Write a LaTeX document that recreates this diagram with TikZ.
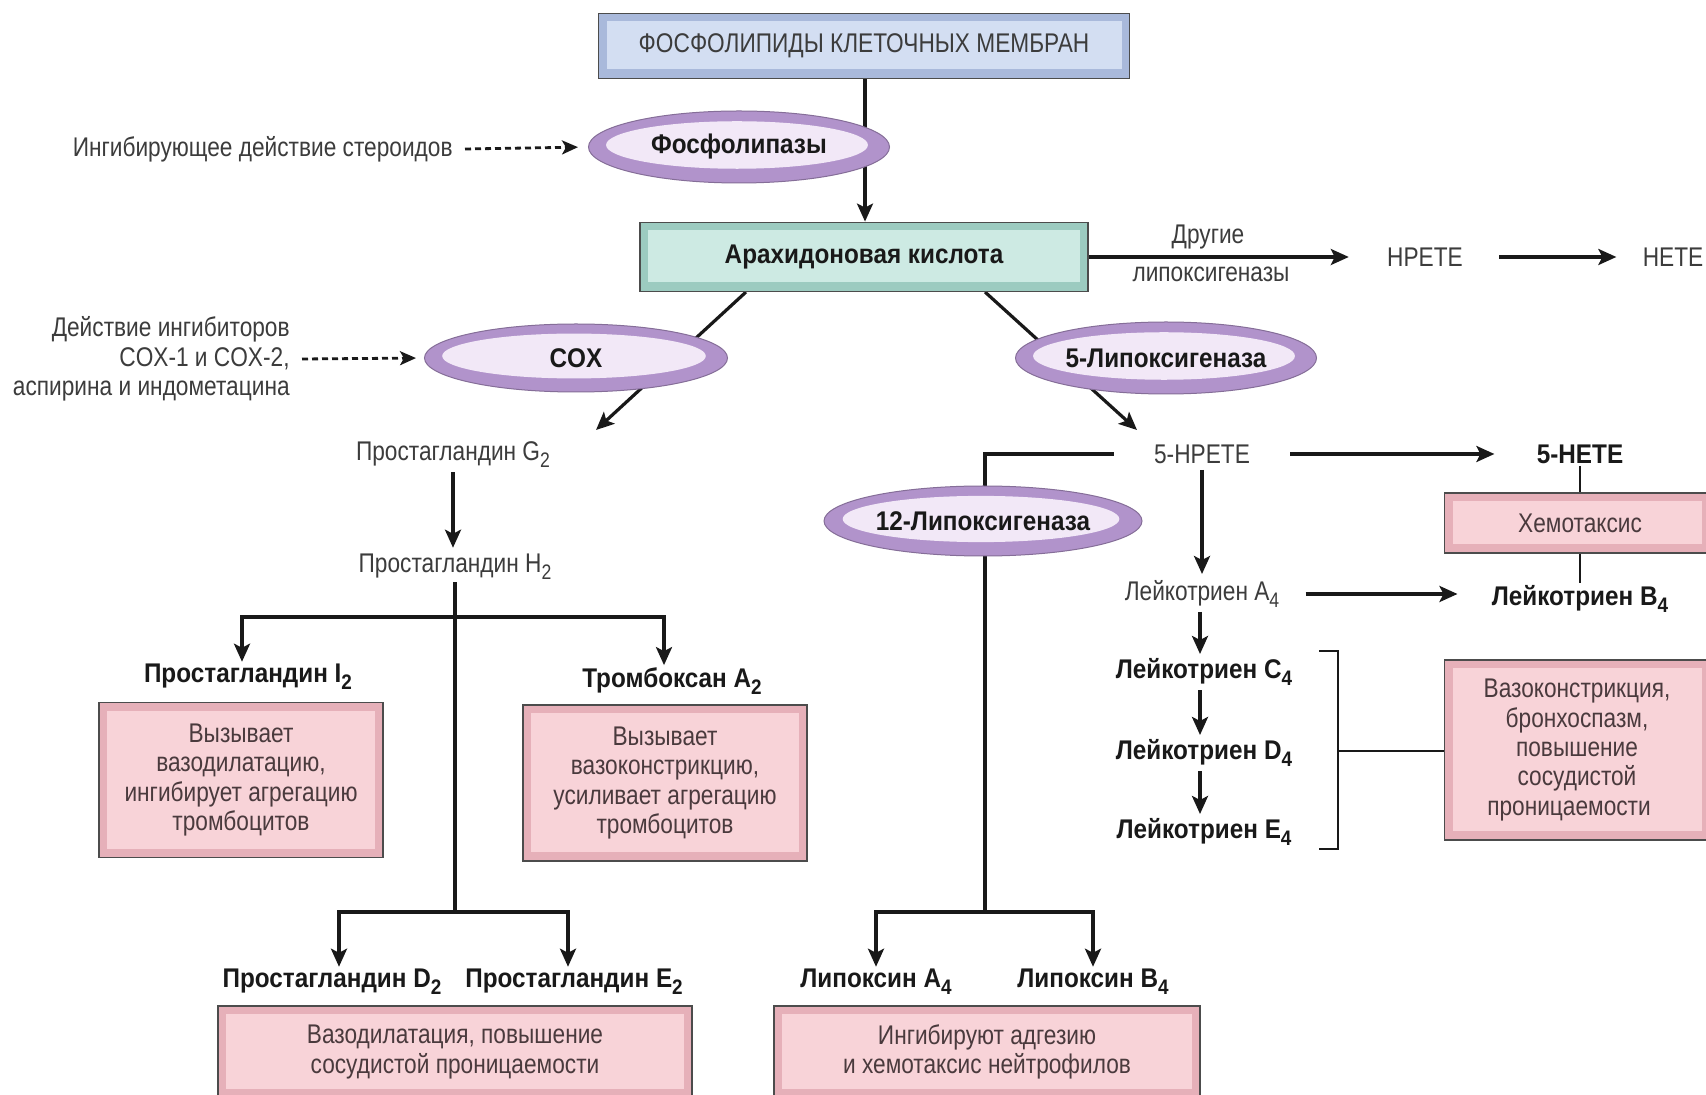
\documentclass[tikz,border=0pt]{standalone}
\usepackage{fontspec}
\setmainfont{Liberation Sans}[FakeStretch=0.84, BoldFeatures={FakeStretch=0.9}]
\usetikzlibrary{arrows.meta,shapes.geometric,calc}
\definecolor{bluein}{HTML}{D3DEF2}
\definecolor{blueedge}{HTML}{A9B9DB}
\definecolor{tealin}{HTML}{CDEAE3}
\definecolor{tealedge}{HTML}{9CCBC0}
\definecolor{pinkin}{HTML}{F8D3D8}
\definecolor{pinkedge}{HTML}{E6B0B9}
\definecolor{purpout}{HTML}{B193CB}
\definecolor{purpin}{HTML}{F2E8F7}
\definecolor{txt}{HTML}{3C3C3C}
\definecolor{boxtxt}{HTML}{4A3A3D}
\newcommand\sbs[1]{\raisebox{-0.5ex}{\fontsize{10.5}{10.5}\selectfont #1}}
\pgfdeclarelayer{bg}
\pgfsetlayers{bg,main}
\begin{document}
\begin{tikzpicture}[x=0.5pt,y=-0.5pt,
  every node/.style={font=\fontsize{13.5}{14.7}\selectfont, text=txt, inner sep=1pt},
  bf/.style={font=\fontsize{13.5}{14.7}\selectfont\bfseries, text=black!90},
  bevbox/.style={rectangle, draw=black!70, line width=0.9pt, fill=#1edge, inner sep=0pt, align=center,
    path picture={\fill[#1in] ([shift={(4pt,-4pt)}]path picture bounding box.north west) rectangle ([shift={(-4pt,4.5pt)}]path picture bounding box.south east);}},
  enz/.style={ellipse, fill=purpout, draw=purpout!75!black, line width=0.5pt, inner sep=0pt,
    font=\fontsize{13.5}{14.7}\selectfont\bfseries, text=black!90,
    path picture={\fill[purpin] let \p1=(path picture bounding box.north east), \p2=(path picture bounding box.center) in
      ({\x2-1pt},{\y2+1pt}) ellipse [x radius={0.87*(\x1-\x2)}, y radius={0.66*(\y1-\y2)}];}},
  ln/.style={line width=1.6pt, draw=black!90},
  arr/.style={ln, -{Stealth[length=9pt,width=8pt,inset=2pt]}},
  dsh/.style={line width=1.4pt, draw=black!90, dash pattern=on 3pt off 2pt, -{Stealth[length=8pt,width=7pt,inset=2pt]}},
  thn/.style={line width=1pt, draw=black!90}]
\useasboundingbox (0,0) rectangle (1706,1095);
\begin{pgfonlayer}{bg}
\fill[white] (0,0) rectangle (1706,1095);
\end{pgfonlayer}

% ---- nodes
\node[bevbox=blue, minimum width=265.5pt, minimum height=32.5pt] (top) at (864,46) {ФОСФОЛИПИДЫ КЛЕТОЧНЫХ МЕМБРАН};
\node[enz, minimum width=150.5pt, minimum height=36pt] (phos) at (739,147) {Фосфолипазы};
\node[anchor=east] (ster) at (455,149) {Ингибирующее действие стероидов};
\node[bevbox=teal, bf, minimum width=224pt, minimum height=34.5pt] (arach) at (864,257) {Арахидоновая кислота};
\node (drug) at (1208,237) {Другие};
\node (lipox) at (1211,274) {липоксигеназы};
\node (hpete) at (1425,257) {HPETE};
\node (hete) at (1673,257) {HETE};

\node[anchor=east, align=right] (inhib) at (292,359) {Действие ингибиторов\\COX-1 и COX-2,\\аспирина и индометацина};
\node[enz, minimum width=151.5pt, minimum height=34pt] (cox) at (576,358) {COX};
\node[enz, minimum width=150.5pt, minimum height=36pt] (lox5) at (1166,358) {5-Липоксигеназа};

\node (pgg2) at (453,455) {Простагландин G\sbs{2}};
\node (pgh2) at (455,567) {Простагландин H\sbs{2}};
\node[bf] (pgi2) at (248,677) {Простагландин I\sbs{2}};
\node[bf] (txa2) at (672,681) {Тромбоксан A\sbs{2}};
\node[bevbox=pink, text=boxtxt, minimum width=142pt, minimum height=77.5pt] (bi2) at (241,780) {Вызывает\\вазодилатацию,\\ингибирует агрегацию\\тромбоцитов};
\node[bevbox=pink, text=boxtxt, minimum width=142pt, minimum height=78pt] (btx) at (665,783) {Вызывает\\вазоконстрикцию,\\усиливает агрегацию\\тромбоцитов};
\node[bf] (pgd2) at (332,982) {Простагландин D\sbs{2}};
\node[bf] (pge2) at (574,982) {Простагландин E\sbs{2}};
\node[bevbox=pink, text=boxtxt, minimum width=237pt, minimum height=46pt] (bde) at (455,1052) {Вазодилатация, повышение\\сосудистой проницаемости};

\node (hpete5) at (1202,454) {5-HPETE};
\node[bf] (hete5) at (1580,454) {5-HETE};
\node[enz, minimum width=159pt, minimum height=35pt] (lox12) at (983,521) {12-Липоксигеназа};
\node[bf] (lxa4) at (876,982) {Липоксин A\sbs{4}};
\node[bf] (lxb4) at (1093,982) {Липоксин B\sbs{4}};
\node[bevbox=pink, text=boxtxt, minimum width=213pt, minimum height=46pt] (blx) at (987,1052) {Ингибируют адгезию\\и хемотаксис нейтрофилов};

\node (lta4) at (1202,594) {Лейкотриен A\sbs{4}};
\node[bf] (ltb4) at (1580,599) {Лейкотриен B\sbs{4}};
\node[bevbox=pink, text=boxtxt, minimum width=132.5pt, minimum height=30pt] (bchem) at (1577,523) {\hspace*{3pt}Хемотаксис};
\node[bf] (ltc4) at (1204,672) {Лейкотриен C\sbs{4}};
\node[bf] (ltd4) at (1204,753) {Лейкотриен D\sbs{4}};
\node[bf] (lte4) at (1204,832) {Лейкотриен E\sbs{4}};
\node[bevbox=pink, text=boxtxt, minimum width=132.5pt, minimum height=90pt] (bvaso) at (1577,750) {Вазоконстрикция,\\бронхоспазм,\\повышение\\сосудистой\\проницаемости\hspace*{8pt}};

% ---- coordinates
\coordinate (aL) at (746,292);
\coordinate (aLend) at (596,430);
\coordinate (aR) at (985,292);
\coordinate (aRend) at (1137,430);
\coordinate (hJ) at (455,617);
\coordinate (hB) at (455,912);
\coordinate (lJ) at (985,454);
\coordinate (lB) at (985,912);
\coordinate (brT) at (1319,651);
\coordinate (brB) at (1319,849);
\coordinate (brM) at (1338,751);

% ---- connectors
\begin{pgfonlayer}{bg}
\draw[arr] ([xshift=0.5pt]top.south) -- ([xshift=0.5pt]arach.north);
\draw[dsh, shorten >=5pt] ([xshift=5pt]ster.east) -- (phos.west);
\draw[dsh, shorten >=4pt] ([xshift=5pt]inhib.east) -- (cox.west);
\draw[arr, shorten >=18pt] (arach.east) -- (hpete.west);
\draw[arr, shorten <=17pt, shorten >=12pt] (hpete.east) -- (hete.west);
\draw[arr] (aL) -- (aLend);
\draw[arr] (aR) -- (aRend);
\draw[arr, shorten <=1pt, shorten >=2pt] (pgg2.south) -- (pgg2.south |- pgh2.north);
\draw[ln] (pgh2.south) -- (hB);
\draw[arr] (hJ) -| ([xshift=-3pt]pgi2.north);
\draw[arr] (hJ) -| ([xshift=-4pt]txa2.north);
\draw[arr] (hB) -| ([xshift=3.5pt]pgd2.north);
\draw[arr] (hB) -| ([xshift=-3pt]pge2.north);
\draw[ln, shorten <=19pt] (hpete5.west) -- (lJ) -- (lB);
\draw[arr] (lB) -| (lxa4.north);
\draw[arr] (lB) -| (lxb4.north);
\draw[arr, shorten <=19pt, shorten >=20pt] (hpete5.east) -- (hete5.west);
\draw[arr, shorten <=2pt, shorten >=2pt] (hpete5.south) -- (lta4.north);
\draw[arr, shorten <=12pt, shorten >=16pt] (lta4.east) -- (lta4.east -| ltb4.west);
\draw[ln, line width=1.3pt] (hete5.south) -- (ltb4.north);
\draw[arr, shorten <=1pt, shorten >=1pt] ([xshift=-1pt]lta4.south) -- ([xshift=-2pt]ltc4.north);
\draw[arr, shorten <=1pt, shorten >=1pt] ([xshift=-2pt]ltc4.south) -- ([xshift=-2pt]ltd4.north);
\draw[arr, shorten <=1pt, shorten >=1pt] ([xshift=-2pt]ltd4.south) -- ([xshift=-2pt]lte4.north);
\draw[thn] (brT) -- (brT -| brM) -- (brB -| brM) -- (brB);
\draw[thn] (brM) -- (brM -| bvaso.west);
\end{pgfonlayer}
\end{tikzpicture}
\end{document}
